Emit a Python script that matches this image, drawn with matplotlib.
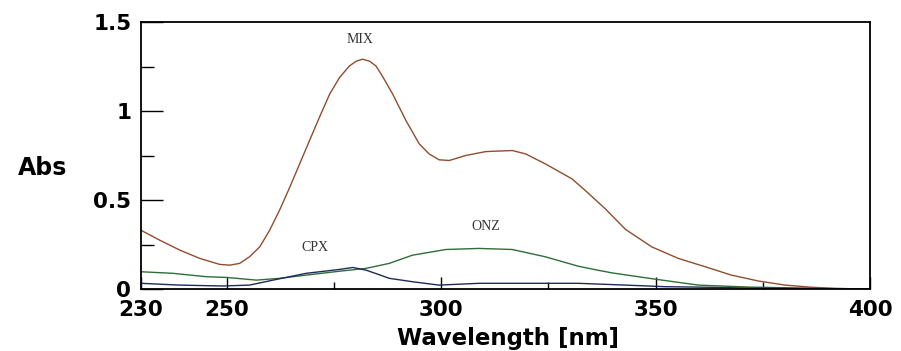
import matplotlib
matplotlib.use("Agg")
from matplotlib import pyplot as plt
from matplotlib.ticker import MultipleLocator, FixedLocator

# MIX spectrum (brown)
mix_nm = [230, 234.4, 239.1, 243.7, 248.4, 250.7, 253, 255.3, 257.7, 260, 262.3, 264.7, 267,
          269.3, 271.6, 274, 276.3, 278.6, 280.2, 281.7, 283.3, 284.8, 286.2, 288.7, 291.8,
          294.9, 297.2, 299.5, 301.9, 305.7, 310.4, 316.6, 319.7, 324.3, 330.5, 333.6, 338.3,
          343, 349.1, 355.3, 361.6, 367.7, 374, 380.2, 386.4, 392, 400]
mix_abs = [0.33, 0.274, 0.218, 0.172, 0.138, 0.134, 0.144, 0.181, 0.237, 0.33, 0.442, 0.572, 0.703,
           0.834, 0.964, 1.095, 1.188, 1.253, 1.28, 1.291, 1.28, 1.253, 1.2, 1.095, 0.946,
           0.815, 0.759, 0.726, 0.722, 0.75, 0.772, 0.778, 0.759, 0.703, 0.619, 0.554, 0.45,
           0.335, 0.237, 0.172, 0.125, 0.078, 0.045, 0.022, 0.01, 0.003, 0.0]

# ONZ spectrum (green)
onz_nm = [230, 237.5, 245.3, 250, 256.9, 262.3, 268.5, 276.3, 282.5, 287.9, 293.3, 301.1,
          308.8, 316.6, 324.3, 332, 336.7, 340, 350, 360, 371.6, 385, 400]
onz_abs = [0.097, 0.088, 0.069, 0.065, 0.05, 0.06, 0.078, 0.1, 0.116, 0.144, 0.19, 0.222,
           0.228, 0.222, 0.181, 0.128, 0.105, 0.09, 0.055, 0.022, 0.011, 0.005, 0.0]

# CPX spectrum (navy)
cpx_nm = [230, 239, 249, 255.3, 260.8, 268.5, 276.3, 279.4, 282.5, 285.6, 287.9, 293.3,
          299.5, 308.8, 332, 343, 352.3, 362, 372, 400]
cpx_abs = [0.032, 0.022, 0.017, 0.022, 0.05, 0.088, 0.11, 0.121, 0.106, 0.08, 0.06, 0.041,
           0.022, 0.032, 0.032, 0.022, 0.013, 0.01, 0.005, 0.0]

fig = plt.figure(figsize=(9.01, 3.51), dpi=100)
ax = fig.add_axes([0.1565, 0.1766, 0.809, 0.7607])

ax.plot(mix_nm, mix_abs, color="#8f4e2e", lw=1.0)
ax.plot(onz_nm, onz_abs, color="#2e6e3a", lw=1.0)
ax.plot(cpx_nm, cpx_abs, color="#1e2a5c", lw=1.0)

ax.set_xlim(230, 400)
ax.set_ylim(0, 1.5)

ax.xaxis.set_major_locator(FixedLocator([230, 250, 300, 350, 400]))
ax.xaxis.set_minor_locator(FixedLocator([275, 325, 375]))
ax.set_yticks([0, 0.5, 1, 1.5])
ax.set_yticklabels(["0", "0.5", "1", "1.5"])
ax.yaxis.set_minor_locator(MultipleLocator(0.25))

ax.tick_params(axis="x", which="major", direction="in", length=9, width=1, pad=8)
ax.tick_params(axis="x", which="minor", direction="in", length=5, width=1)
ax.tick_params(axis="y", which="major", direction="in", length=16, width=1, pad=7)
ax.tick_params(axis="y", which="minor", direction="in", length=9.5, width=1)
for lab in ax.get_xticklabels() + ax.get_yticklabels():
    lab.set_fontfamily("DejaVu Sans")
    lab.set_fontweight("bold")
    lab.set_fontsize(15.5)

for s in ax.spines.values():
    s.set_linewidth(1.3)

ax.text(281, 1.40, "MIX", family="Liberation Serif", fontsize=10, color="#333333", ha="center", va="center")
ax.text(270.5, 0.235, "CPX", family="Liberation Serif", fontsize=10, color="#333333", ha="center", va="center")
ax.text(310.5, 0.35, "ONZ", family="Liberation Serif", fontsize=10, color="#333333", ha="center", va="center")

fig.text(0.047, 0.52, "Abs", family="DejaVu Sans", fontweight="bold", fontsize=17, ha="center", va="center")
fig.text(0.564, 0.037, "Wavelength [nm]", family="DejaVu Sans", fontweight="bold", fontsize=16.5,
         ha="center", va="center")

fig.savefig("out.png", dpi=100)
